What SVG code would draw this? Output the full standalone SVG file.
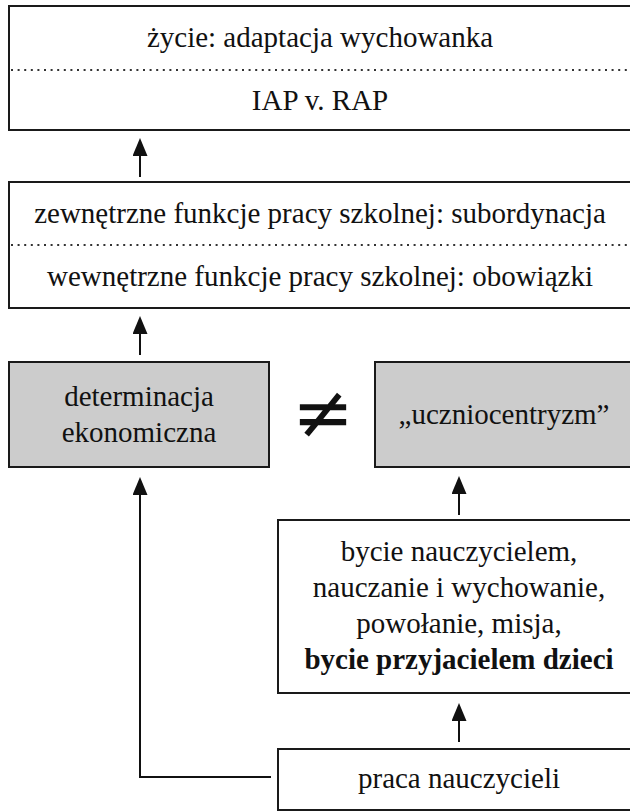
<svg xmlns="http://www.w3.org/2000/svg" width="630" height="811" viewBox="0 0 630 811">
  <defs>
    <style>
      .box { fill: #ffffff; stroke: #1a1a1a; stroke-width: 2; }
      .grey { fill: #cccccc; stroke: #1a1a1a; stroke-width: 2; }
      .sep { stroke: #333333; stroke-width: 2; stroke-dasharray: 2 4.6; fill: none; }
      .t { font-family: "Liberation Serif", "Times New Roman", serif; font-size: 29px; fill: #111111; text-anchor: middle; }
      .b { font-weight: bold; }
      .conn { stroke: #111111; stroke-width: 2; fill: none; }
    </style>
    <marker id="ah" markerUnits="userSpaceOnUse" markerWidth="19" markerHeight="16" refX="0" refY="7.5" orient="auto">
      <path d="M0,0 L18,7.5 L0,15 z" fill="#111111"/>
    </marker>
  </defs>
  <rect width="630" height="811" fill="#ffffff"/>

  <g id="n-zycie">
    <rect class="box" x="9" y="6" width="623" height="124"/>
    <line class="sep" x1="11" y1="70" x2="630" y2="70"/>
    <text class="t" x="320" y="47">życie: adaptacja wychowanka</text>
    <text class="t" x="320" y="110">IAP v. RAP</text>
  </g>

  <g id="n-funkcje">
    <rect class="box" x="9" y="182" width="623" height="126"/>
    <line class="sep" x1="11" y1="245" x2="630" y2="245"/>
    <text class="t" x="320" y="223">zewnętrzne funkcje pracy szkolnej: subordynacja</text>
    <text class="t" x="320" y="286">wewnętrzne funkcje pracy szkolnej: obowiązki</text>
  </g>

  <g id="n-determinacja">
    <rect class="grey" x="9" y="362" width="260" height="105"/>
    <text class="t" x="139" y="406">determinacja</text>
    <text class="t" x="139" y="442">ekonomiczna</text>
  </g>

  <g id="n-neq">
    <text x="323" y="438" style="font-family: 'DejaVu Sans', sans-serif; font-size: 74px; fill: #111111; text-anchor: middle;">≠</text>
  </g>

  <g id="n-uczniocentryzm">
    <rect class="grey" x="375" y="362" width="258" height="105"/>
    <text class="t" x="504" y="424">„uczniocentryzm”</text>
  </g>

  <g id="n-bycie">
    <rect class="box" x="278" y="520" width="362" height="173"/>
    <text class="t" x="459" y="561">bycie nauczycielem,</text>
    <text class="t" x="459" y="597">nauczanie i wychowanie,</text>
    <text class="t" x="459" y="633">powołanie, misja,</text>
    <text class="t b" x="459" y="669">bycie przyjacielem dzieci</text>
  </g>

  <g id="n-praca">
    <rect class="box" x="278" y="749" width="362" height="61"/>
    <text class="t" x="459" y="788">praca nauczycieli</text>
  </g>

  <g id="connectors">
    <line class="conn" x1="140" y1="177" x2="140" y2="156" marker-end="url(#ah)"/>
    <line class="conn" x1="140" y1="355" x2="140" y2="334" marker-end="url(#ah)"/>
    <polyline class="conn" points="271,777 140,777 140,495" marker-end="url(#ah)"/>
    <line class="conn" x1="459" y1="515" x2="459" y2="494" marker-end="url(#ah)"/>
    <line class="conn" x1="459" y1="742" x2="459" y2="721" marker-end="url(#ah)"/>
  </g>
</svg>
